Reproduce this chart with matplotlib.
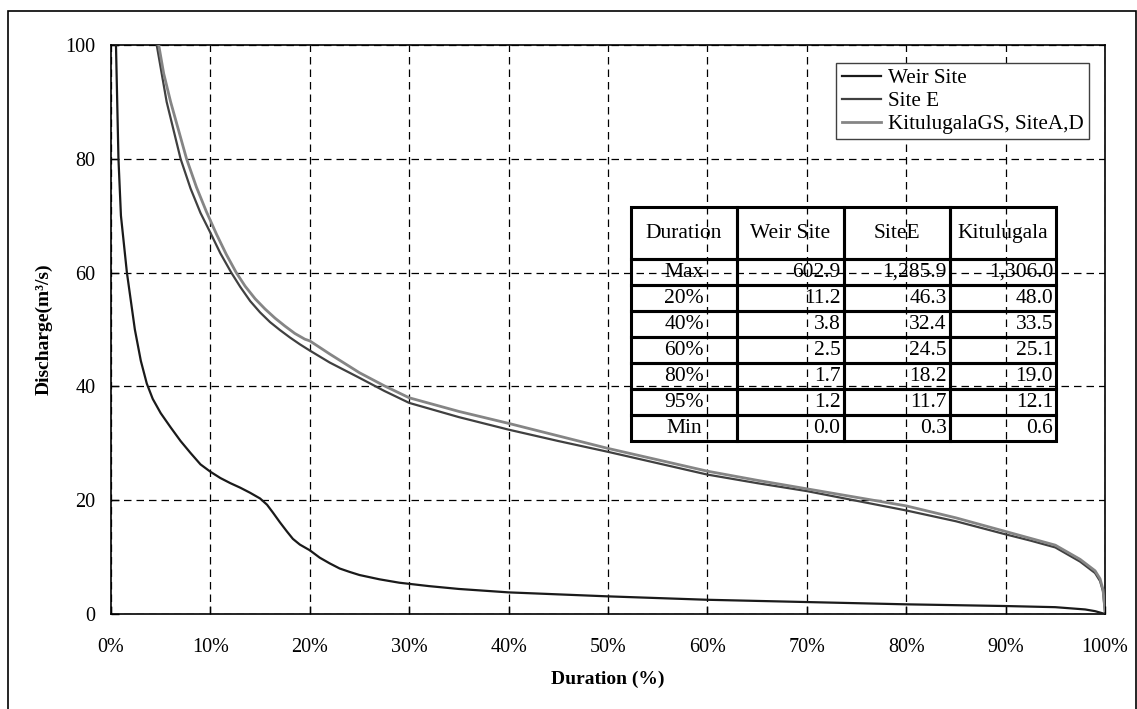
import numpy as np
import matplotlib
matplotlib.use("Agg")
import matplotlib.pyplot as plt
from matplotlib.ticker import PercentFormatter
from matplotlib.patches import Rectangle

plt.rcParams['font.family'] = ['Liberation Serif', 'DejaVu Serif']

# flow duration curves (duration in %, discharge in m3/s)
weir_x = [0, 0.1, 0.3, 0.5, 0.75, 1.0, 1.6, 2.4, 3.0, 3.6, 4.2, 5.0, 6.0, 7.0, 8.0, 9.0,
          10, 11, 12, 13, 14, 15, 15.7, 16.3, 17, 17.7, 18.3, 19, 20, 21, 22, 23, 24, 25,
          27, 29, 32, 35, 40, 50, 60, 70, 80, 90, 95, 98, 99, 100]
weir_q = [602.9, 200, 130, 100, 80, 70, 60, 50, 44.5, 40.5, 37.8, 35.3, 32.8, 30.4, 28.3, 26.3,
          25, 23.9, 23.0, 22.2, 21.3, 20.3, 19.2, 17.8, 16.1, 14.5, 13.2, 12.2, 11.2, 9.9, 8.9, 8.0, 7.4, 6.85,
          6.1, 5.5, 4.9, 4.4, 3.8, 3.1, 2.5, 2.1, 1.7, 1.4, 1.2, 0.8, 0.5, 0.0]

sitee_x = [0, 1, 2, 3, 4, 4.6, 5.0, 5.6, 6.3, 7.0, 8.0, 9.0, 10, 11, 12.1, 13, 14, 15, 16,
           17, 18, 19, 20, 22, 25, 27.5, 30, 35, 40, 45, 50, 55, 60, 65, 70, 75, 80, 85,
           90, 92.5, 95, 97.5, 99, 99.5, 99.8, 100]
sitee_q = [1285.9, 300, 180, 135, 110, 100, 96, 90, 85, 80, 74.8, 70.5, 67, 63.4, 60, 57.5, 55,
           53, 51.3, 49.9, 48.6, 47.4, 46.3, 44.2, 41.5, 39.2, 37.1, 34.6, 32.4, 30.4, 28.5, 26.5,
           24.5, 23.0, 21.6, 19.9, 18.2, 16.3, 14.0, 12.9, 11.7, 9.2, 7.2, 5.8, 4.0, 0.3]

kit_x = [0, 1, 2, 3, 4, 4.8, 5.3, 6.0, 6.8, 7.6, 8.6, 9.6, 10.6, 11.6, 12.6, 13.5, 14.5,
         15.5, 16.5, 17.5, 18.5, 19.5, 20, 22, 25, 27.5, 30, 35, 40, 45, 50, 55, 60, 65,
         70, 75, 80, 85, 90, 92.5, 95, 97.5, 99, 99.5, 99.8, 100]
kit_q = [1306.0, 310, 185, 140, 115, 100, 95, 90, 85, 80, 75, 70.7, 66.8, 63.2, 60, 57.6, 55.4,
         53.6, 52.0, 50.6, 49.3, 48.3, 48.0, 45.7, 42.4, 40.1, 38.0, 35.6, 33.5, 31.3, 29.1, 27.1,
         25.1, 23.5, 22.0, 20.5, 19.0, 16.9, 14.5, 13.3, 12.1, 9.6, 7.6, 6.2, 4.3, 0.6]

# summary table
tab_cols = ['Duration', 'Weir Site', 'SiteE', 'Kitulugala']
tab_rows = ['Max', '20%', '40%', '60%', '80%', '95%', 'Min']
weir_stats = [602.9, 11.2, 3.8, 2.5, 1.7, 1.2, 0.0]
sitee_stats = [1285.9, 46.3, 32.4, 24.5, 18.2, 11.7, 0.3]
kit_stats = [1306.0, 48.0, 33.5, 25.1, 19.0, 12.1, 0.6]

fig = plt.figure(figsize=(11.37, 7.09), dpi=100)
ax = fig.add_axes([111/1137, 95/709, 994/1137, 569/709])

# outer chart border
fig.patches.append(Rectangle((8/1137, -0.01), 1128/1137, 1 - 11/709 + 0.01,
                             transform=fig.transFigure, fill=False, ec='black', lw=1.2))

ax.plot(weir_x, weir_q, color='#1a1a1a', lw=1.6, label='Weir Site', zorder=3)
ax.plot(sitee_x, sitee_q, color='#404040', lw=1.6, label='Site E', zorder=3)
ax.plot(kit_x, kit_q, color='#858585', lw=2.0, label='KitulugalaGS, SiteA,D', zorder=3)

ax.set_xlim(0, 100)
ax.set_ylim(0, 100)
ax.set_xticks(np.arange(0, 101, 10))
ax.set_yticks(np.arange(0, 101, 20))
ax.xaxis.set_major_formatter(PercentFormatter(xmax=100, decimals=0))
ax.grid(True, color='black', linestyle=(0, (6, 4)), lw=0.9)
ax.tick_params(axis='both', direction='in', length=6, width=1, labelsize=14.5)
ax.tick_params(axis='y', pad=11)
ax.tick_params(axis='x', pad=17)
for s in ax.spines.values():
    s.set_linewidth(1.2)

ax.set_xlabel('Duration (%)', fontsize=14, fontweight='bold', labelpad=10)
ax.set_ylabel('Discharge(m³/s)', fontsize=14, fontweight='bold', labelpad=9)

leg = ax.legend(loc='upper right', bbox_to_anchor=(0.984, 0.968), borderaxespad=0,
                fontsize=15.2, handlelength=1.85, handletextpad=0.35, labelspacing=0.15,
                borderpad=0.25, fancybox=False, framealpha=1, edgecolor='#404040')
leg.get_frame().set_linewidth(1.0)

cell_text = [tab_cols]
for r, a, b, c in zip(tab_rows, weir_stats, sitee_stats, kit_stats):
    cell_text.append([r, f'{a:,.1f}', f'{b:,.1f}', f'{c:,.1f}'])

tbl = ax.table(cellText=cell_text, bbox=[0.523, 0.304, 0.428, 0.411], zorder=4)
tbl.auto_set_font_size(False)
tbl.set_fontsize(15.5)
for (i, j), cell in tbl.get_celld().items():
    cell.set_facecolor('none')
    cell.set_linewidth(2.2)
    cell.set_edgecolor('black')
    cell.PAD = 0.03
    if i == 0:
        cell.set_height(cell.get_height() * 2)
    if i == 0 or j == 0:
        cell.get_text().set_horizontalalignment('center')
    else:
        cell.get_text().set_horizontalalignment('right')

fig.savefig('out.png', dpi=100)
